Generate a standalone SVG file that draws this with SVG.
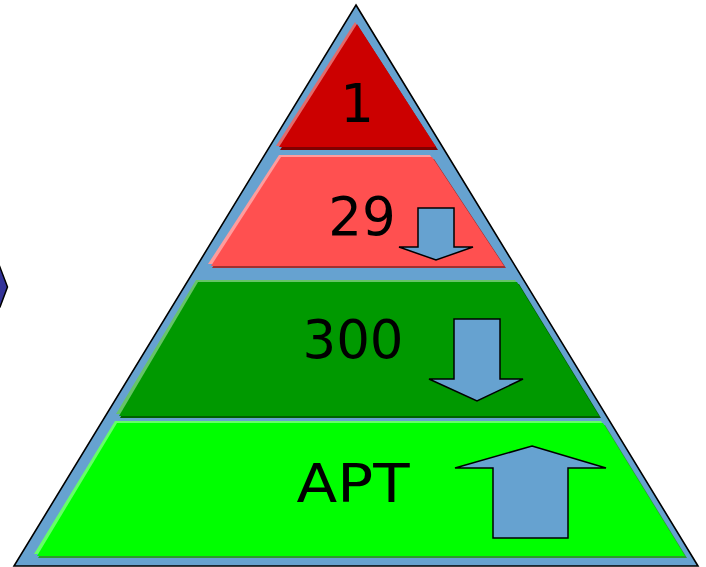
<svg xmlns="http://www.w3.org/2000/svg" width="706" height="567" viewBox="0 0 706 567">
  <style>
    .label { font-family: "DejaVu Sans", Verdana, sans-serif; font-size: 53px; fill: #000; text-anchor: middle; }
    .frame { fill: #66A2D0; stroke: #000; stroke-width: 1.6; stroke-linejoin: miter; }
    .arrow { fill: #66A2D0; stroke: #000; stroke-width: 1.5; stroke-linejoin: miter; }
  </style>
  <rect width="706" height="567" fill="#ffffff"/>

  <!-- partial shape at the left edge -->
  <g id="edge-shape">
    <polygon points="-2,262 7.5,287 0,307 -2,307" fill="#333399" stroke="#000" stroke-width="1.5"/>
  </g>

  <!-- pyramid frame -->
  <g id="pyramid">
    <polygon class="frame" points="356,5 698,566 14,566"/>
  </g>

  <!-- tier 1 (top) -->
  <g id="tier-1">
    <polygon points="358,26 438,150 280,150" fill="#800000"/>
    <polygon points="355,22 435,146 276,146" fill="#E36A6A"/>
    <polygon points="357,24 436,147 279,147" fill="#CC0000"/>
    <text class="label" x="357" y="122">1</text>
  </g>

  <!-- tier 2 -->
  <g id="tier-2">
    <polygon points="282,159 434,159 506,268 212,268" fill="#A03030"/>
    <polygon points="279,155 430,155 502,264 208,264" fill="#FF9C9C"/>
    <polygon points="281,157 432,157 504,266 211,266" fill="#FF5050"/>
    <text class="label" x="362" y="235">29</text>
    <polygon class="arrow" points="418,208 454,208 454,247 473,247 436,260 399,247 418,247"/>
  </g>

  <!-- tier 3 -->
  <g id="tier-3">
    <polygon points="199,284 519,284 601,418 120,418" fill="#006000"/>
    <polygon points="196,280 515,280 597,414 116,414" fill="#66C466"/>
    <polygon points="198,282 517,282 599,416 119,416" fill="#009900"/>
    <text class="label" x="353" y="358">300</text>
    <polygon class="arrow" points="454,319 500,319 500,379 523,379 477,401 429,379 454,379"/>
  </g>

  <!-- tier 4 (base) -->
  <g id="tier-4">
    <polygon points="118,425 605,425 687,558 38,558" fill="#2E9A2E"/>
    <polygon points="115,421 601,421 683,554 34,554" fill="#66FF66"/>
    <polygon points="117,423 603,423 685,556 37,556" fill="#00FF00"/>
    <text class="label" x="353" y="502" textLength="113" lengthAdjust="spacingAndGlyphs">APT</text>
    <polygon class="arrow" points="532,446 606,468 568,468 568,538 493,538 493,468 455,468"/>
  </g>
</svg>
